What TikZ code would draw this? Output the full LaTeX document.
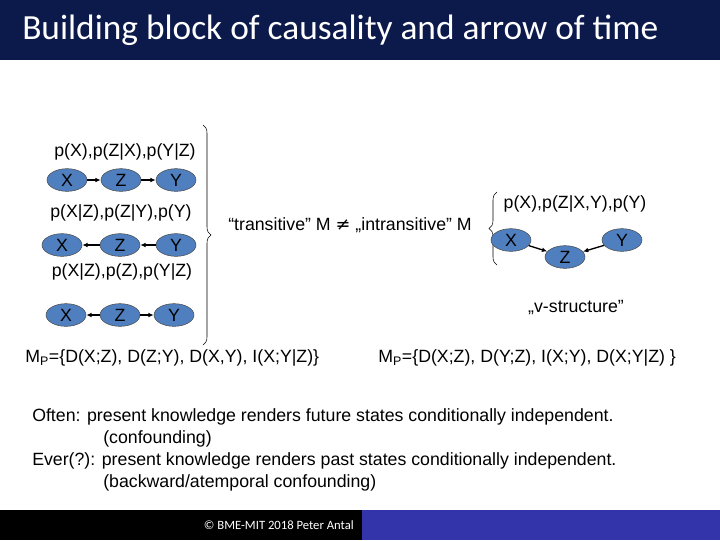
\documentclass[tikz,border=0pt]{standalone}
\usepackage{fontspec}
\setmainfont{Liberation Sans}
\newfontfamily\titlefont{Carlito}
\newfontfamily\symfont{DejaVu Sans}
\usetikzlibrary{shapes.geometric,arrows.meta,decorations.pathreplacing}
\definecolor{navy}{HTML}{0C1A4B}
\definecolor{fblue}{HTML}{3333AA}
\definecolor{nodeblue}{HTML}{4F7FBF}
\begin{document}
\begin{tikzpicture}[x=0.75pt,y=-0.75pt,
  var/.style={ellipse,draw=black!70,fill=nodeblue,minimum width=30pt,minimum height=17pt,inner sep=0pt,font=\fontsize{13.3}{14}\selectfont},
  arr/.style={-{Latex[length=4pt,width=3.5pt]},line width=1pt},
  txt/.style={font=\fontsize{13.3}{15}\selectfont,inner sep=0pt},
  brc/.style={decorate,decoration={brace,amplitude=6pt},thin}]
\useasboundingbox (0,0) rectangle (720,540);
\fill[navy] (0,0) rectangle (720,60);
\node[anchor=west,inner sep=0pt,text=white,font=\titlefont\fontsize{26.5}{27}\selectfont] (title) at (22,30) {Building block of causality and arrow of time};
\fill[black] (0,510) rectangle (362,540);
\fill[fblue] (362,510) rectangle (720,540);
\node[anchor=east,inner sep=0pt,text=white,font=\titlefont\fontsize{9.5}{10}\selectfont] (foot) at (354,525) {© BME-MIT 2018 Peter Antal};

\node[txt] (l1) at (125,152) {p(X),p(Z|X),p(Y|Z)};
\node[var] (x1) at (67,180) {X};
\node[var] (z1) at (121,180) {Z};
\node[var] (y1) at (176,180) {Y};
\draw[arr] (x1) -- (z1); \draw[arr] (z1) -- (y1);

\node[txt] (l2) at (121,213) {p(X|Z),p(Z|Y),p(Y)};
\node[var] (x2) at (62,245) {X};
\node[var] (z2) at (120,245) {Z};
\node[var] (y2) at (176,245) {Y};
\draw[arr] (z2) -- (x2); \draw[arr] (y2) -- (z2);

\node[txt] (l3) at (122,272) {p(X|Z),p(Z),p(Y|Z)};
\node[var] (x3) at (66,315) {X};
\node[var] (z3) at (120,315) {Z};
\node[var] (y3) at (174,315) {Y};
\draw[arr] (z3) -- (x3); \draw[arr] (z3) -- (y3);

\coordinate (b1t) at (203,125); \coordinate (b1b) at (203,345);
\draw[brc] (b1t) -- (b1b);
\node[txt] (mid) at (350,225) {“transitive” M {\symfont ≠} „intransitive” M};

\coordinate (b2t) at (497,265); \coordinate (b2b) at (497,192);
\draw[brc] (b2t) -- (b2b);
\node[txt] (l4) at (575,204) {p(X),p(Z|X,Y),p(Y)};
\node[var] (x4) at (511,240) {X};
\node[var] (z4) at (565,257) {Z};
\node[var] (y4) at (622,240) {Y};
\draw[arr] (x4) -- (z4); \draw[arr] (y4) -- (z4);
\node[txt] (vs) at (576,308) {„v-structure”};

\node[txt,anchor=west] (mp1) at (25,358) {M\textsubscript{P}=\{D(X;Z), D(Z;Y), D(X,Y), I(X;Y|Z)\}};
\node[txt,anchor=west] (mp2) at (378,358) {M\textsubscript{P}=\{D(X;Z), D(Y;Z), I(X;Y), D(X;Y|Z) \}};

\node[txt,anchor=west] (t1) at (32,417) {Often: present knowledge renders future states conditionally independent.};
\node[txt,anchor=west] (t2) at (103,439) {(confounding)};
\node[txt,anchor=west] (t3) at (32,461) {Ever(?): present knowledge renders past states conditionally independent.};
\node[txt,anchor=west] (t4) at (103,483) {(backward/atemporal confounding)};
\end{tikzpicture}
\end{document}
